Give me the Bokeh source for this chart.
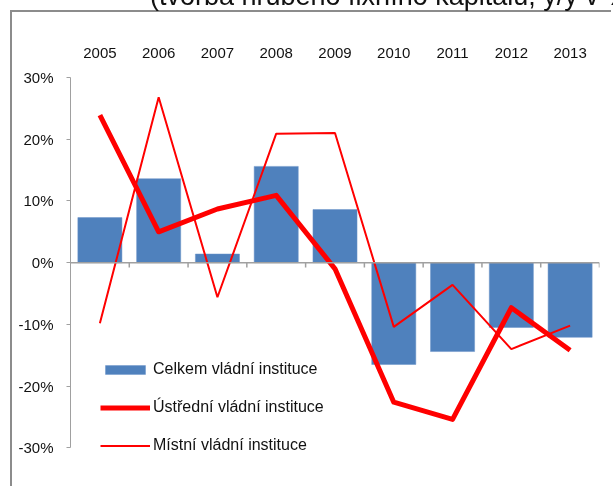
from bokeh.plotting import figure
from bokeh.layouts import column
from bokeh.models import (FactorRange, Range1d, FixedTicker, PrintfTickFormatter,
                          CategoricalAxis, Span, Legend, LegendItem, Div,
                          ColumnDataSource)
from bokeh.transform import dodge
from bokeh.embed import file_html
from bokeh.resources import INLINE

# ---- data (y/y change, %) ----
years = ["2005", "2006", "2007", "2008", "2009", "2010", "2011", "2012", "2013"]
celkem = [7.3, 13.6, 1.4, 15.6, 8.6, -16.5, -14.4, -10.5, -12.1]
ustredni = [23.9, 5.0, 8.7, 10.9, -1.0, -22.6, -25.4, -7.3, -14.2]
mistni = [-9.8, 26.8, -5.6, 20.9, 21.0, -10.4, -3.6, -14.0, -10.2]
y_ticks = [-30, -20, -10, 0, 10, 20, 30]
labels = ["Celkem vládní instituce", "Ústřední vládní instituce", "Místní vládní instituce"]
title_text = "(tvorba hrubého fixního kapitálu, y/y v %)"

FONT = "Liberation Sans"
src = ColumnDataSource(dict(year=years, celkem=celkem, ustredni=ustredni, mistni=mistni,
                            zero=[0] * len(years), tick=[-0.8] * len(years)))

p = figure(width=601, height=476, x_range=FactorRange(factors=years, range_padding=0),
           y_range=Range1d(y_ticks[0] - 4, y_ticks[-1]),
           output_backend="svg", toolbar_location=None,
           min_border_left=58, min_border_right=14, min_border_top=65, min_border_bottom=16,
           x_axis_location=None)
p.styles = {"position": "fixed", "left": "10px", "top": "10px",
            "border-left": "2px solid #8c8c8c", "border-top": "2px solid #8c8c8c"}
p.outline_line_color = None
p.xgrid.visible = False
p.ygrid.visible = False
p.background_fill_color = "white"
p.border_fill_color = "white"

# y axis
ya = p.yaxis[0]
ya.ticker = FixedTicker(ticks=y_ticks)
ya.bounds = (y_ticks[0], y_ticks[-1])
ya.formatter = PrintfTickFormatter(format="%d%%")
ya.axis_line_color = "#a0a0a0"
ya.major_tick_line_color = "#a0a0a0"
ya.major_tick_out = 4
ya.major_tick_in = 0
ya.minor_tick_line_color = None
ya.major_label_standoff = 13
ya.major_label_text_font = FONT
ya.major_label_text_font_size = "15px"
ya.major_label_text_color = "#111111"

# category labels on top
xa = CategoricalAxis(axis_line_color=None, major_tick_line_color=None,
                     minor_tick_line_color=None, major_label_standoff=14,
                     major_label_text_font=FONT, major_label_text_font_size="15px",
                     major_label_text_color="#111111")
p.add_layout(xa, "above")

# bars and lines
bars = p.vbar(x="year", top="celkem", width=0.75, source=src,
              fill_color="#4F81BD", line_color="#6a93c8", line_width=0.5)
l_ust = p.line(x="year", y="ustredni", source=src, line_color="#FF0000", line_width=5,
               line_join="round")
l_mis = p.line(x="year", y="mistni", source=src, line_color="#FF0000", line_width=2)

# zero axis line with category-boundary ticks
p.add_layout(Span(location=0, dimension="width", line_color="#a0a0a0", line_width=1.5))
p.segment(x0=dodge("year", 0.5, range=p.x_range), x1=dodge("year", 0.5, range=p.x_range),
          y0="zero", y1="tick", source=src, line_color="#a0a0a0", line_width=1.5)

# legend
legend = Legend(items=[LegendItem(label=labels[0], renderers=[bars]),
                       LegendItem(label=labels[1], renderers=[l_ust]),
                       LegendItem(label=labels[2], renderers=[l_mis])],
                location=(30, 18), orientation="vertical",
                glyph_width=50, glyph_height=11, label_height=16, spacing=20,
                label_standoff=3, padding=0, margin=0,
                border_line_color=None, background_fill_alpha=0,
                label_text_font=FONT, label_text_font_size="16px",
                label_text_color="#111111")
p.add_layout(legend, "center")

# title, cut off by the top of the window as in the reference
title = Div(text=title_text, width=600, height=27,
            styles={"position": "fixed", "left": "145px", "top": "-22px",
                    "font-family": FONT, "font-size": "27px", "line-height": "27px",
                    "white-space": "nowrap", "color": "#111111", "z-index": "5"})

layout = column(title, p)
open("out.html", "w").write(file_html(layout, INLINE))
